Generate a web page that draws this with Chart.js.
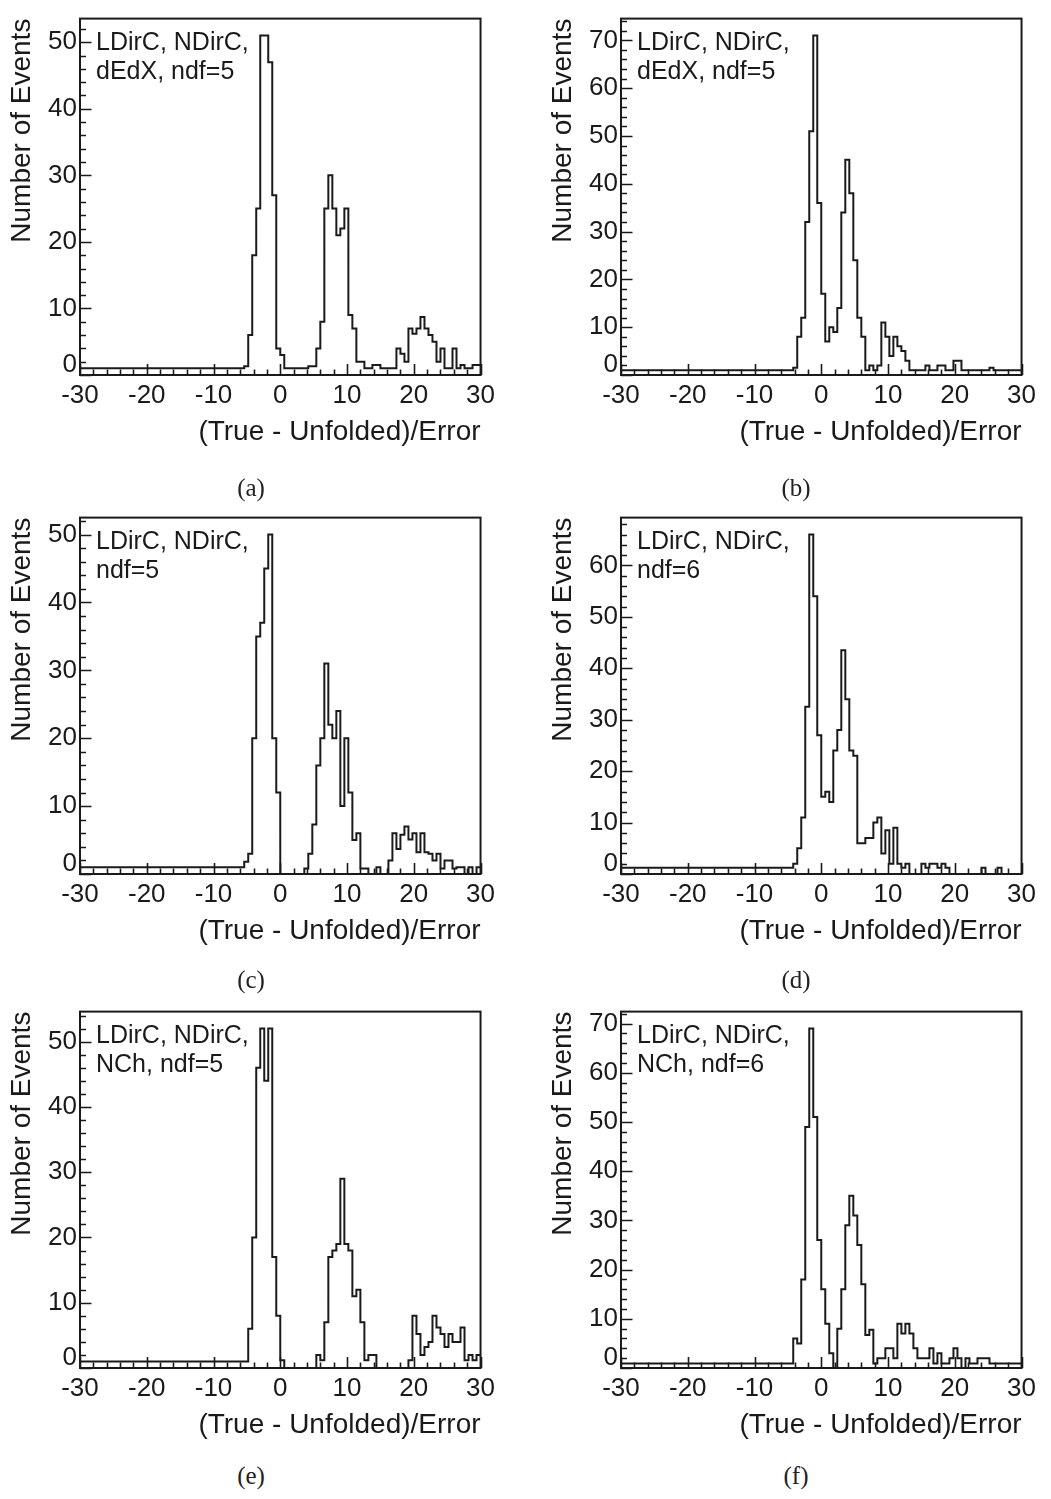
<!DOCTYPE html>
<html>
<head>
<meta charset="utf-8">
<script src="https://cdn.jsdelivr.net/npm/chart.js@4.4.1/dist/chart.umd.min.js"></script>
<style>
  html, body { margin: 0; padding: 0; background: #ffffff; }
  body { width: 1051px; height: 1499px; position: relative; overflow: hidden; }
  .panel { position: absolute; width: 500px; height: 460px; }
  .cap { position: absolute; font-family: "Liberation Serif", "Times New Roman", serif; font-size: 25px; color: #222; transform: translate(-50%, -50%); white-space: nowrap; }
</style>
</head>
<body>
<canvas id="ca" class="panel" width="500" height="460" style="left:0px;top:0px"></canvas>
<canvas id="cb" class="panel" width="500" height="460" style="left:541px;top:0px"></canvas>
<canvas id="cc" class="panel" width="500" height="460" style="left:0px;top:499px"></canvas>
<canvas id="cd" class="panel" width="500" height="460" style="left:541px;top:499px"></canvas>
<canvas id="ce" class="panel" width="500" height="460" style="left:0px;top:993px"></canvas>
<canvas id="cf" class="panel" width="500" height="460" style="left:541px;top:993px"></canvas>
<div class="cap" style="left:251px;top:488px">(a)</div>
<div class="cap" style="left:796px;top:488px">(b)</div>
<div class="cap" style="left:251px;top:980px">(c)</div>
<div class="cap" style="left:796px;top:980px">(d)</div>
<div class="cap" style="left:251px;top:1476px">(e)</div>
<div class="cap" style="left:796px;top:1476px">(f)</div>
<script>
// ---- histogram binning (100 bins from -30 to 30) ----
const xMin = -30, xMax = 30, nBins = 100;
const binLowEdges = Array.from({length: nBins}, (_, i) => +(xMin + i * (xMax - xMin) / nBins).toFixed(2));

// ---- axis tick labels ----
const xTickValues = [-30, -20, -10, 0, 10, 20, 30];
const xTickLabels = ['-30', '-20', '-10', '0', '10', '20', '30'];
const yTicksA = [0, 10, 20, 30, 40, 50];
const yTicksB = [0, 10, 20, 30, 40, 50, 60, 70];
const yTicksC = [0, 10, 20, 30, 40, 50];
const yTicksD = [0, 10, 20, 30, 40, 50, 60];
const yTicksE = [0, 10, 20, 30, 40, 50];
const yTicksF = [0, 10, 20, 30, 40, 50, 60, 70];
const xTitle = '(True - Unfolded)/Error';
const yTitle = 'Number of Events';

// ---- bin contents ----
const valuesA = [
  1,1,1,1,1,1,1,1,1,1,
  1,1,1,1,1,1,1,1,1,1,
  1,1,1,1,1,1,1,1,1,1,
  1,1,1,1,1,1,1,1,1,1,
  1,1.3,6,18,25,51,51,47,27,4,
  3,1,1,1,1,1,1,1.3,1.3,4,
  8,25,30,25,21,22,25,9,7,2,
  2,1,1,1.5,1.5,1,1,1,1,4,
  3.2,2,7,6.2,7,8.7,7,6,5,2,
  4,1,1,4,1,1.5,1,1,1.5,1.5
];
const valuesB = [
  1,1,1,1,1,1,1,1,1,1,
  1,1,1,1,1,1,1,1,1,1,
  1,1,1,1,1,1,1,1,1,1,
  1,1,1,1,1,1,1,1,1,1,
  1,1,1,1.5,8,12,32,51,71,36,
  17,7,10,9,14,34,45,38,24,12,
  8,1,2,1,2,11,8,4,8,6,
  5,3,1,1,1,1,2,1,1,2,
  2,1,1,3,3,1,1,1,1,1,
  1,1,1.5,1,1,1,1,1,1,1
];
const valuesC = [
  1,1,1,1,1,1,1,1,1,1,
  1,1,1,1,1,1,1,1,1,1,
  1,1,1,1,1,1,1,1,1,1,
  1,1,1,1,1,1,1,1,1,1,
  1,1.8,3,20,35,37,45,50,20,12,
  0,0,0,0,0,0,0.8,3,7.3,16,
  20,31,22,20,24,10,20,12,5,6,
  0.8,0.8,0,0,1,0,0,2,6,3.7,
  5.8,7,5.1,6,3.2,6,3.2,3,2,3,
  0.8,2,2,0.8,1,1,0,1,0,1
];
const valuesD = [
  1.2,1.2,1.2,1.2,1.2,1.2,1.2,1.2,1.2,1.2,
  1.2,1.2,1.2,1.2,1.2,1.2,1.2,1.2,1.2,1.2,
  1.2,1.2,1.2,1.2,1.2,1.2,1.2,1.2,1.2,1.2,
  1.2,1.2,1.2,1.2,1.2,1.2,1.2,1.2,1.2,1.2,
  1.2,1.2,1.2,2,5,11,32.5,66,54,27,
  15,16,14,24,28,43.5,34,24,23,6,
  6,7,7,10,11,4,8.5,2,9,2,
  1.2,2,0,0,0,2,1.2,2,2,1.2,
  2,1.2,0,0,0,0,0,0,0,0,
  1.2,0,0,0,1.2,0,0,0,0,0
];
const valuesE = [
  1,1,1,1,1,1,1,1,1,1,
  1,1,1,1,1,1,1,1,1,1,
  1,1,1,1,1,1,1,1,1,1,
  1,1,1,1,1,1,1,1,1,1,
  1,1,6,20,46,52,44,52,17,8,
  1.2,0,0,0,0,0,0,0,0,2,
  1.2,7,17,18,19,29,19,18,11,12,
  7,1.2,2,2,0,0,0,0,0,0,
  0,0,1.2,8,5.2,2,3.2,4,8,6.2,
  5.2,3.2,5.2,4,4,6.2,1.2,2,1.2,2
];
const valuesF = [
  0.9,0.9,0.9,0.9,0.9,0.9,0.9,0.9,0.9,0.9,
  0.9,0.9,0.9,0.9,0.9,0.9,0.9,0.9,0.9,0.9,
  0.9,0.9,0.9,0.9,0.9,0.9,0.9,0.9,0.9,0.9,
  0.9,0.9,0.9,0.9,0.9,0.9,0.9,0.9,0.9,0.9,
  0.9,0.9,0.9,6,5,18,49,69,51,26,
  16,9,3,0,8,16,29,35,31,25,
  17,6.7,7.8,0.9,2,2,4,4,2,9,
  7,9,7,4,2,2,2,4,0.9,3,
  0.9,0.9,2,4,2,0,2,0.9,0.9,2,
  2,2,0.9,0.9,0.9,0.9,0.9,0.9,0.9,0.9
];

// ---- y-axis upper limits (frame tops) ----
const yMaxA = 53.55, yMaxB = 74.55, yMaxC = 52.5, yMaxD = 69.3, yMaxE = 54.6, yMaxF = 72.45;

// ---- in-frame annotation text ----
const legendA = ['LDirC, NDirC,', 'dEdX, ndf=5'];
const legendB = ['LDirC, NDirC,', 'dEdX, ndf=5'];
const legendC = ['LDirC, NDirC,', 'ndf=5'];
const legendD = ['LDirC, NDirC,', 'ndf=6'];
const legendE = ['LDirC, NDirC,', 'NCh, ndf=5'];
const legendF = ['LDirC, NDirC,', 'NCh, ndf=6'];

const FONT = '"Liberation Sans", Arial, Helvetica, sans-serif';
const INK = '#1a1a1a';

const framePlugin = {
  id: 'rootFrame',
  afterDatasetsDraw(chart, args, opts) {
    const {ctx, chartArea: a, scales} = chart;
    const x = scales.x, y = scales.y;
    ctx.save();
    ctx.strokeStyle = INK;
    ctx.lineWidth = 1.6;
    ctx.beginPath();
    for (let v = x.min; v <= x.max + 1e-9; v += 2) {
      const px = Math.round(x.getPixelForValue(v)) + 0.5;
      const len = (Math.abs(v % 10) < 1e-6) ? 11 : 5.5;
      ctx.moveTo(px, a.bottom);
      ctx.lineTo(px, a.bottom - len);
    }
    for (let v = 0; v <= y.max + 1e-9; v += 2) {
      const py = Math.round(y.getPixelForValue(v)) + 0.5;
      const len = (Math.abs(v % 10) < 1e-6) ? 11.5 : 6;
      ctx.moveTo(a.left, py);
      ctx.lineTo(a.left + len, py);
    }
    ctx.stroke();
    ctx.lineWidth = 2;
    ctx.strokeRect(a.left, a.top, a.right - a.left, a.bottom - a.top);
    ctx.fillStyle = INK;
    ctx.font = '25px ' + FONT;
    ctx.textBaseline = 'middle';
    ctx.textAlign = 'left';
    (opts.lines || []).forEach((t, i) => ctx.fillText(t, a.left + 16, a.top + 25 + i * 28.5));
    ctx.restore();
  }
};

function makePanel(canvasId, values, yMax, yTicks, legendLines) {
  const pts = values.map((v, i) => ({x: binLowEdges[i], y: v}));
  pts.push({x: xMax, y: values[values.length - 1]});
  new Chart(document.getElementById(canvasId), {
    type: 'line',
    data: {
      datasets: [{
        data: pts,
        stepped: true,
        borderColor: INK,
        borderWidth: 2,
        pointRadius: 0,
        fill: false,
        tension: 0
      }]
    },
    options: {
      responsive: false,
      animation: false,
      devicePixelRatio: 1,
      layout: {padding: {top: 9, right: 13, left: 0, bottom: 0}},
      plugins: {
        legend: {display: false},
        tooltip: {enabled: false},
        rootFrame: {lines: legendLines}
      },
      scales: {
        x: {
          type: 'linear',
          min: xMin,
          max: xMax,
          grid: {display: false, drawTicks: false},
          border: {display: false},
          afterBuildTicks: s => { s.ticks = xTickValues.map(v => ({value: v})); },
          afterFit: s => { s.height = 85; },
          ticks: {
            autoSkip: false,
            maxRotation: 0,
            padding: 5,
            color: INK,
            font: {family: FONT, size: 26},
            callback: v => { const k = xTickValues.indexOf(v); return k >= 0 ? xTickLabels[k] : ''; }
          },
          title: {
            display: true,
            text: xTitle,
            align: 'end',
            color: INK,
            font: {family: FONT, size: 28},
            padding: {top: 0, bottom: 11}
          }
        },
        y: {
          type: 'linear',
          min: 0,
          max: yMax,
          grid: {display: false, drawTicks: false},
          border: {display: false},
          afterBuildTicks: s => { s.ticks = yTicks.map(v => ({value: v})); },
          afterFit: s => { s.width = 80; },
          ticks: {
            autoSkip: false,
            padding: 3,
            color: INK,
            font: c => ({family: FONT, size: 26, lineHeight: (c.tick && c.tick.value === 0) ? 0.77 : 1.2}),
            callback: v => v === 0 ? [String(v), ''] : String(v)
          },
          title: {
            display: true,
            text: yTitle,
            align: 'end',
            color: INK,
            font: {family: FONT, size: 28},
            padding: {top: 5, bottom: 0}
          }
        }
      }
    },
    plugins: [framePlugin]
  });
}

makePanel('ca', valuesA, yMaxA, yTicksA, legendA);
makePanel('cb', valuesB, yMaxB, yTicksB, legendB);
makePanel('cc', valuesC, yMaxC, yTicksC, legendC);
makePanel('cd', valuesD, yMaxD, yTicksD, legendD);
makePanel('ce', valuesE, yMaxE, yTicksE, legendE);
makePanel('cf', valuesF, yMaxF, yTicksF, legendF);
</script>
</body>
</html>
